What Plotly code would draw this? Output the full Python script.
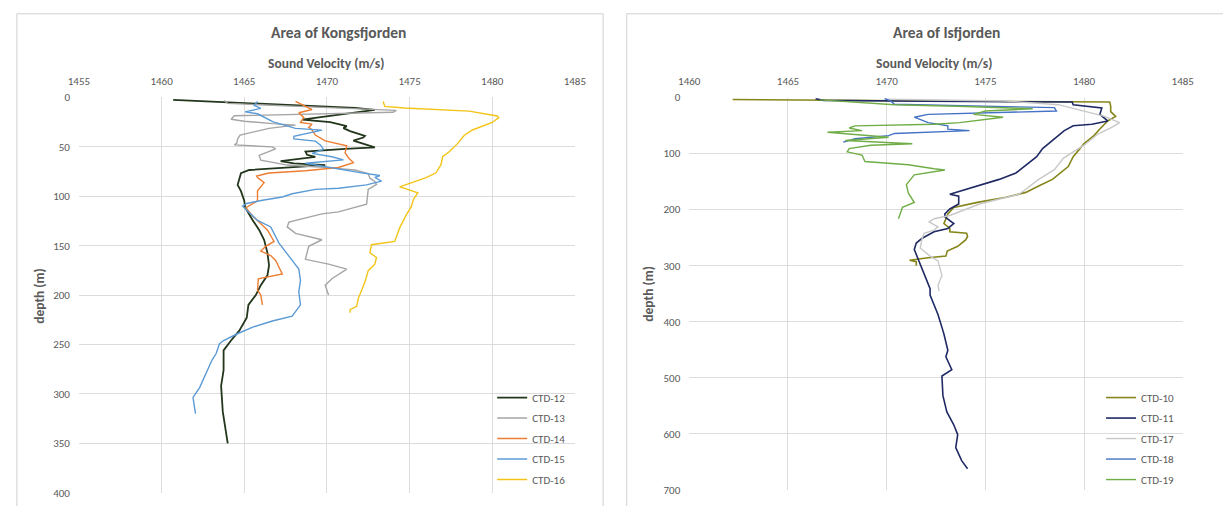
import plotly.graph_objects as go

W, H = 1223, 506

# ---------------- data: (sound velocity m/s, depth m) ----------------
# Kongsfjorden
ctd12 = [(1460.7, 2.5), (1466.5, 6.5), (1471.7, 10.6), (1472.9, 12.5), (1471.0, 17.0), (1468.5, 22.5),
         (1470.2, 25.0), (1471.2, 29.0), (1471.0, 31.0), (1471.4, 34.0), (1472.3, 38.9), (1472.2, 40.5),
         (1471.6, 43.6), (1472.7, 48.7), (1472.9, 50.4), (1471.1, 52.0), (1468.7, 54.7), (1468.8, 58.0),
         (1469.3, 60.2), (1467.2, 64.5), (1468.0, 66.7), (1469.9, 68.4), (1465.3, 73.4), (1464.8, 76.7),
         (1464.7, 83.3), (1464.6, 88.4), (1464.8, 94.8), (1465.0, 104.6), (1465.05, 111), (1465.5, 124),
         (1465.9, 134), (1466.2, 144), (1466.4, 157), (1466.5, 170), (1466.4, 180), (1466.0, 190),
         (1465.7, 200), (1465.25, 210), (1465.15, 223), (1464.7, 236), (1464.2, 246), (1463.75, 256),
         (1463.75, 276), (1463.6, 292), (1463.7, 318), (1463.9, 338), (1464.0, 350)]
ctd13 = [(1463.8, 3), (1464.0, 6), (1469.0, 9.5), (1474.2, 13), (1474.0, 15), (1470.0, 16.5), (1464.4, 18.5),
         (1464.2, 22), (1465.0, 24), (1466.7, 26.5), (1468.1, 28), (1466.5, 31.3), (1464.75, 38), (1464.6, 42),
         (1464.55, 46.2), (1464.4, 48), (1466.7, 50), (1466.9, 52), (1465.9, 58.6), (1466.0, 63.5),
         (1467.6, 68.4), (1470.0, 71), (1471.7, 73.4), (1472.5, 77), (1472.6, 81.7), (1472.9, 85),
         (1473.0, 88), (1472.5, 93), (1472.45, 101.4), (1472.4, 108), (1470.7, 115.8), (1469.7, 117.8),
         (1467.7, 126), (1467.6, 131), (1468.1, 137.5), (1469.7, 144), (1468.9, 150.6), (1468.7, 163.8),
         (1470.1, 168.7), (1471.2, 173.7), (1470.3, 183.5), (1469.9, 190), (1470.1, 200)]
ctd14 = [(1468.1, 4), (1468.5, 7.3), (1469.1, 12.2), (1468.3, 15.5), (1468.6, 20.4), (1468.4, 25.3),
         (1469.1, 27), (1468.9, 30), (1469.1, 32.9), (1469.3, 38), (1469.9, 44), (1471.2, 49), (1471.1, 56),
         (1471.3, 61), (1471.6, 65.9), (1470.7, 70.9), (1468.7, 74.2), (1466.5, 76.5), (1465.75, 79.5),
         (1465.8, 81), (1466.2, 86.2), (1465.8, 94.5), (1465.8, 104.6), (1465.1, 111.5), (1465.5, 120),
         (1466.4, 134), (1466.8, 145.7), (1466.3, 150.6), (1466.0, 155.5), (1466.6, 160), (1466.9, 165),
         (1467.3, 178.6), (1466.45, 181.9), (1465.85, 183.5), (1465.8, 195), (1466.0, 200), (1466.1, 210)]
ctd15 = [(1465.8, 4), (1465.6, 8), (1466.0, 11), (1465.05, 14.5), (1465.8, 16.5), (1466.2, 20),
         (1466.75, 24.7), (1468.1, 31.3), (1469.7, 33), (1468.0, 39.2), (1468.0, 42), (1469.3, 44.2),
         (1469.6, 48), (1469.8, 52.5), (1469.1, 56.6), (1470.3, 60), (1471.0, 63.2), (1468.7, 66.5),
         (1470.5, 72), (1472.0, 76), (1473.2, 79), (1472.9, 81), (1473.3, 84.6), (1472.4, 88.5),
         (1470.7, 91.8), (1469.3, 93), (1467.9, 97.4), (1467.3, 100.7), (1466.1, 104), (1465.15, 107.3),
         (1464.9, 110), (1465.8, 124.4), (1466.6, 131), (1467.1, 147.4), (1467.7, 160.5), (1468.3, 173.7),
         (1468.4, 185.2), (1468.3, 196.7), (1468.4, 209.9), (1467.9, 221.3), (1466.7, 226.2),
         (1465.55, 232.2), (1464.55, 239.4), (1463.75, 246), (1463.5, 249.3), (1463.3, 259.2),
         (1463.05, 265.8), (1462.5, 285.5), (1462.3, 293.7), (1461.9, 303.6), (1462.05, 320)]
ctd16 = [(1473.4, 4), (1473.5, 9), (1474.7, 10.6), (1478.6, 13.8), (1480.3, 18.7), (1480.4, 20.4),
         (1480.0, 25.3), (1479.5, 28.6), (1478.8, 32.9), (1478.3, 38.5), (1477.9, 46.7), (1477.4, 54.9),
         (1477.0, 59.8), (1476.9, 68), (1476.6, 76.2), (1476.0, 81.2), (1475.1, 86.1), (1474.4, 90.4),
         (1474.7, 92), (1475.1, 94.3), (1475.5, 96.6), (1475.25, 102.5), (1475.1, 110.7), (1474.8, 118.9),
         (1474.6, 125.5), (1474.4, 132), (1474.1, 145.7), (1472.7, 149), (1472.6, 157.2), (1473.0, 162),
         (1472.9, 168.7), (1472.5, 175.3), (1472.3, 186.8), (1472.1, 195), (1471.9, 203.3),
         (1471.8, 211.4), (1471.4, 214.8), (1471.4, 218)]

# Isfjorden
ctd10 = [(1462.2, 3.5), (1470.0, 5.5), (1481.3, 8), (1481.35, 15), (1481.35, 25), (1481.6, 33.6),
         (1481.2, 41.7), (1480.8, 56), (1480.5, 67.8), (1480.0, 82.3), (1479.7, 94), (1479.45, 105.5),
         (1479.2, 123), (1478.8, 134.5), (1478.4, 146), (1477.7, 157.7), (1477.05, 169.2), (1476.05, 178),
         (1474.6, 187), (1473.4, 196), (1473.1, 207.5), (1472.9, 224.9), (1473.2, 233.6), (1473.2, 239.4),
         (1474.05, 242.3), (1474.1, 248), (1474.0, 254), (1473.6, 265.5), (1473.07, 274), (1473.0, 283),
         (1472.1, 285.8), (1471.16, 290.4), (1471.5, 293), (1471.5, 300)]
ctd11 = [(1466.4, 2), (1466.8, 5), (1472.0, 6.5), (1479.4, 8), (1479.45, 12.7), (1480.4, 15.7),
         (1480.9, 18.6), (1480.8, 30), (1481.1, 38.8), (1481.2, 41.7), (1480.4, 47.5), (1479.45, 50.4),
         (1479.0, 59), (1478.5, 73.6), (1477.9, 91), (1477.6, 105.5), (1477.05, 120), (1476.55, 134.5),
         (1475.7, 146), (1474.9, 154.8), (1474.1, 163.5), (1473.2, 172.7), (1473.65, 176), (1473.65, 190),
         (1473.2, 198.8), (1472.95, 207.5), (1472.95, 213), (1473.2, 219), (1473.4, 224.9), (1473.1, 233.6),
         (1472.4, 239.4), (1471.8, 251), (1471.5, 259.7), (1471.4, 271.3), (1471.6, 288.7), (1471.9, 317.7),
         (1472.2, 341), (1472.2, 352.5), (1472.55, 381.4), (1472.6, 387.3), (1472.85, 416), (1472.9, 422),
         (1473.1, 451), (1473.0, 462.6), (1473.3, 485.8), (1472.95, 492.8), (1472.8, 497), (1472.85, 532),
         (1473.05, 561), (1473.4, 584), (1473.6, 601.7), (1473.5, 624.9), (1473.8, 648), (1474.1, 662.6)]
ctd17 = [(1469.9, 3), (1476.0, 6), (1478.7, 12.7), (1480.0, 24.3), (1481.0, 33), (1481.8, 44.6),
         (1481.4, 53.3), (1480.7, 65), (1480.0, 85), (1479.45, 96.8), (1478.95, 108.4), (1478.5, 128.7),
         (1477.7, 146), (1477.05, 163.5), (1476.7, 172.7), (1474.7, 190), (1473.2, 210.4), (1472.4, 216.2),
         (1472.15, 222), (1472.6, 230.8), (1472.4, 236.5), (1471.9, 242.3), (1471.8, 251), (1471.7, 268.4),
         (1472.2, 283), (1472.6, 291.6), (1472.7, 306), (1472.8, 317.4), (1472.6, 335), (1472.65, 345)]
ctd18 = [(1469.9, 2), (1470.2, 6), (1470.4, 12), (1474.5, 15), (1478.5, 18), (1478.6, 24), (1475.4, 27),
         (1472.1, 30), (1471.4, 35), (1472.1, 44.6), (1473.1, 50.4), (1473.1, 56.3), (1474.2, 59),
         (1472.4, 61.5), (1470.4, 64), (1470.1, 68), (1468.4, 73.6), (1467.8, 79.4)]
ctd19 = [(1466.6, 4), (1470.4, 12.7), (1474.0, 16), (1477.4, 20), (1475.0, 24), (1474.4, 30),
         (1475.9, 35), (1473.7, 44.6), (1472.4, 47.6), (1468.4, 50.4), (1468.1, 54.3), (1468.75, 59),
         (1467.0, 62), (1470.1, 70.7), (1467.9, 76.5), (1469.75, 79.4), (1471.3, 82.3), (1469.2, 85),
         (1468.1, 91), (1468.0, 96.8), (1468.75, 102.6), (1468.9, 114.2), (1471.1, 120), (1472.4, 127),
         (1472.95, 129.3), (1471.4, 138), (1471.0, 155.4), (1471.1, 170.7), (1471.4, 187.3), (1470.8, 196),
         (1470.6, 216.2)]

left_series = [("CTD-12", ctd12, "#22361c", 1.8), ("CTD-13", ctd13, "#a5a5a5", 1.4),
               ("CTD-14", ctd14, "#ed7d31", 1.4), ("CTD-15", ctd15, "#5b9bd5", 1.4),
               ("CTD-16", ctd16, "#f2c416", 1.4)]
right_series = [("CTD-10", ctd10, "#85851a", 1.6), ("CTD-11", ctd11, "#1f2a64", 1.6),
                ("CTD-17", ctd17, "#c8c8c8", 1.4), ("CTD-18", ctd18, "#4472c4", 1.4),
                ("CTD-19", ctd19, "#70ad47", 1.4)]

FONT = "Carlito, Lato, 'Liberation Sans', sans-serif"
TXT = "#595959"

fig = go.Figure()
for name, pts, col, w in left_series:
    fig.add_trace(go.Scatter(x=[p[0] for p in pts], y=[p[1] for p in pts], mode="lines", name=name,
                             line=dict(color=col, width=w), xaxis="x", yaxis="y",
                             legend="legend", legendgroup=name, hoverinfo="skip"))
for name, pts, col, w in right_series:
    fig.add_trace(go.Scatter(x=[p[0] for p in pts], y=[p[1] for p in pts], mode="lines", name=name,
                             line=dict(color=col, width=w), xaxis="x2", yaxis="y2",
                             legend="legend2", legendgroup=name, hoverinfo="skip"))

def fx(p):
    return p / W

def fy(p):
    return 1 - p / H

grid = "#dcdcdc"
axcommon = dict(showgrid=True, gridcolor=grid, gridwidth=1, zeroline=False, showline=False,
                tickfont=dict(family=FONT, size=11, color=TXT), fixedrange=True)

fig.update_layout(
    autosize=True, margin=dict(l=0, r=0, t=0, b=0),
    paper_bgcolor="white", plot_bgcolor="white",
    xaxis=dict(domain=[fx(69.2), fx(574.2)], range=[1455, 1485], dtick=5, side="top", anchor="y",
               ticklabelstandoff=9, **axcommon),
    yaxis=dict(domain=[fy(499.5), fy(93.9)], range=[400, 0], dtick=50, anchor="x",
               ticklabelstandoff=8, **axcommon),
    xaxis2=dict(domain=[fx(690.7), fx(1193.2)], range=[1460, 1485], dtick=5, side="top", anchor="y2",
                ticklabelstandoff=9, **axcommon),
    yaxis2=dict(domain=[fy(496.5), fy(94)], range=[700, 0], dtick=100, anchor="x2",
                ticklabelstandoff=8, **axcommon),
    legend=dict(x=fx(490), y=fy(387), xanchor="left", yanchor="top", bgcolor="rgba(0,0,0,0)",
                font=dict(family=FONT, size=11, color=TXT), tracegroupgap=1.5, itemwidth=30),
    legend2=dict(x=fx(1110), y=fy(387), xanchor="left", yanchor="top", bgcolor="rgba(0,0,0,0)",
                 font=dict(family=FONT, size=11, color=TXT), tracegroupgap=1.5, itemwidth=30),
    showlegend=True,
)

# chart-area borders
fig.add_shape(type="rect", xref="paper", yref="paper", x0=fx(6), x1=fx(603), y0=-0.05, y1=fy(8),
              line=dict(color="#d0d0d0", width=1), fillcolor="rgba(0,0,0,0)", layer="below")
fig.add_shape(type="rect", xref="paper", yref="paper", x0=fx(627), x1=1.05, y0=-0.05, y1=fy(8),
              line=dict(color="#d0d0d0", width=1), fillcolor="rgba(0,0,0,0)", layer="below")

def ann(text, x, y, size, angle=0):
    fig.add_annotation(text=f"<b>{text}</b>", xref="paper", yref="paper", x=fx(x), y=fy(y),
                       xanchor="center", yanchor="middle", showarrow=False, textangle=angle,
                       font=dict(family=FONT, size=size, color=TXT))

ann("Area of Kongsfjorden", 334, 27, 15.5)
ann("Sound Velocity (m/s)", 321, 59, 13.5)
ann("depth (m)", 29, 297, 13.5, -90)
ann("Area of Isfjorden", 953, 27, 15.5)
ann("Sound Velocity (m/s)", 939.5, 59, 13.5)
ann("depth (m)", 649, 295, 13.5, -90)

fig.write_html(
    "out.html",
    default_width="100vw",
    default_height="100vh",
    config={"responsive": True, "displayModeBar": False},
    post_script="document.documentElement.style.overflow='hidden';"
                "document.body.style.margin='0';document.body.style.padding='0';"
                "document.body.style.overflow='hidden';"
                "Plotly.Plots.resize(document.getElementById('{plot_id}'));",
)
